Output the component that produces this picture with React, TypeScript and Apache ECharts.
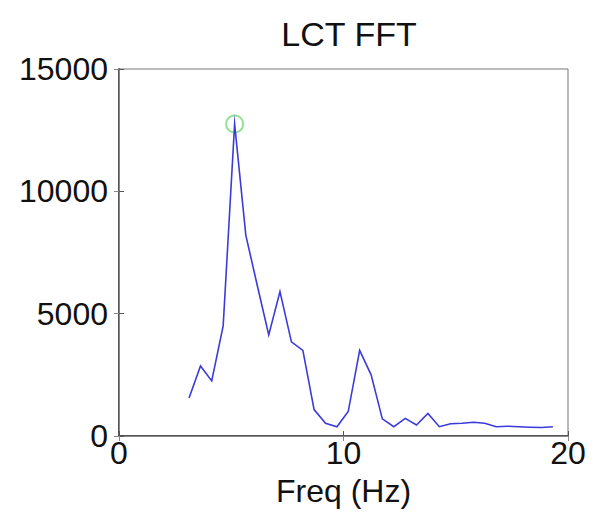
import React, { useEffect, useRef } from "react";
import * as echarts from "echarts";

const freqs = [3.12, 3.63, 4.13, 4.64, 5.15, 5.65, 6.16, 6.67, 7.17, 7.68, 8.19, 8.69, 9.2, 9.71, 10.21, 10.72, 11.23, 11.73, 12.24, 12.75, 13.25, 13.76, 14.27, 14.77, 15.28, 15.79, 16.29, 16.8, 17.31, 17.81, 18.32, 18.83, 19.33];
const amps = [1550, 2860, 2250, 4500, 12750, 8200, 6150, 4130, 5900, 3850, 3500, 1080, 520, 380, 1000, 3500, 2500, 700, 380, 720, 450, 925, 380, 500, 520, 560, 520, 380, 400, 380, 360, 350, 380];
const peakFreq = [5.15];
const peakAmp = [12750];
const xTicks = [0, 10, 20];
const yTicks = [0, 5000, 10000, 15000];

const FONT = "'Liberation Sans', Arial, Helvetica, sans-serif";

export default function App() {
  const ref = useRef<HTMLDivElement>(null);
  useEffect(() => {
    if (!ref.current) return;
    const chart = echarts.init(ref.current, null, { renderer: "svg" });
    const lineData = freqs.map((f, i) => [f, amps[i]]);
    const peakData = peakFreq.map((f, i) => [f, peakAmp[i]]);
    const axisLabelStyle = { color: "#111", fontSize: 32, fontFamily: FONT };
    chart.setOption({
      animation: false,
      backgroundColor: "#fff",
      title: {
        text: "LCT FFT",
        left: 344,
        textAlign: "center",
        top: 12,
        textStyle: { color: "#111", fontSize: 34, fontWeight: "normal", fontFamily: FONT },
      },
      grid: {
        left: 119,
        right: 27,
        top: 69,
        bottom: 95,
        show: true,
        borderColor: "#777",
        borderWidth: 1,
        backgroundColor: "#fff",
      },
      xAxis: [
        {
          type: "value",
          min: xTicks[0],
          max: xTicks[xTicks.length - 1],
          interval: 10,
          position: "bottom",
          name: "Freq (Hz)",
          nameLocation: "middle",
          nameGap: 39,
          nameTextStyle: { color: "#111", fontSize: 32, fontFamily: FONT },
          axisLine: { show: true, lineStyle: { color: "#555", width: 2 } },
          axisTick: { show: true, inside: true, length: 5, lineStyle: { color: "#555" } },
          axisLabel: { ...axisLabelStyle, margin: 1 },
          splitLine: { show: false },
        },
        {
          type: "value",
          min: 0,
          max: 20,
          interval: 10,
          position: "top",
          axisLine: { show: true, lineStyle: { color: "#888", width: 1 } },
          axisTick: { show: true, inside: true, length: 5, lineStyle: { color: "#888" } },
          axisLabel: { show: false },
          splitLine: { show: false },
        },
      ],
      yAxis: [
        {
          type: "value",
          min: yTicks[0],
          max: yTicks[yTicks.length - 1],
          interval: 5000,
          position: "left",
          axisLine: { show: true, lineStyle: { color: "#555", width: 2 } },
          axisTick: { show: true, inside: true, length: 5, lineStyle: { color: "#555" } },
          axisLabel: { ...axisLabelStyle, margin: 11, formatter: (v: number) => String(v) },
          splitLine: { show: false },
        },
        {
          type: "value",
          min: 0,
          max: 15000,
          interval: 5000,
          position: "right",
          axisLine: { show: true, lineStyle: { color: "#888", width: 1 } },
          axisTick: { show: true, inside: true, length: 5, lineStyle: { color: "#888" } },
          axisLabel: { show: false },
          splitLine: { show: false },
        },
      ],
      series: [
        {
          type: "scatter",
          data: peakData,
          symbol: "emptyCircle",
          symbolSize: 17,
          itemStyle: { color: "#78dc78", borderColor: "#78dc78", borderWidth: 2 },
          z: 1,
        },
        {
          type: "line",
          data: lineData,
          showSymbol: false,
          symbol: "none",
          lineStyle: { color: "#3b3bdc", width: 1.6, join: "miter", miterLimit: 20 },
          z: 2,
        },
      ],
    });
    return () => chart.dispose();
  }, []);
  return <div ref={ref} style={{ width: 595, height: 531, position: "absolute", left: 0, top: 0 }} />;
}
